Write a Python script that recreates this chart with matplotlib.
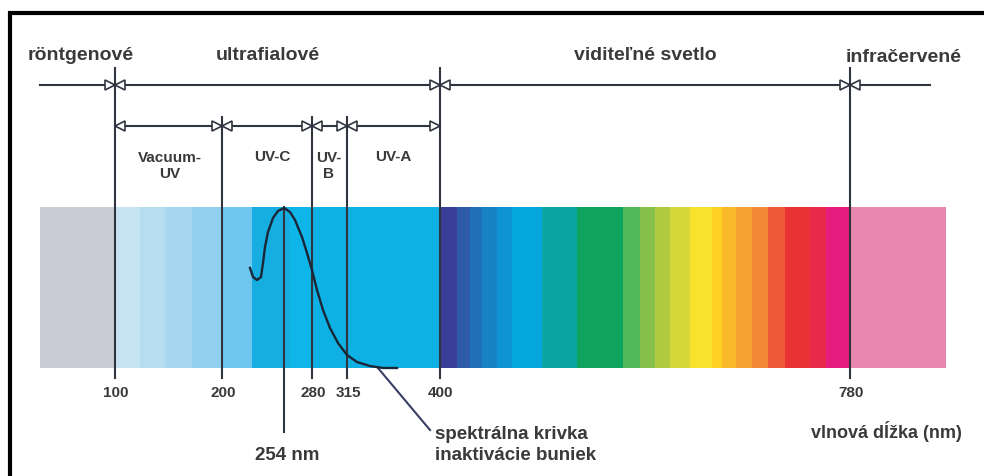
import numpy as np
import matplotlib as mpl
mpl.use('Agg')
import matplotlib.pyplot as plt

# band segments of the spectrum strip (left edge, right edge, colour)
band_left = [40, 115, 140, 165, 192, 222, 252, 290, 312, 440, 457, 470, 482, 497, 512, 542, 577, 623, 640, 655, 670, 690, 712, 722, 736, 752, 768, 785, 810, 826, 850]
band_right = band_left[1:] + [946]
band_colors = ['#c9ccd4', '#c6e4f2', '#b6def0', '#a5d8f0', '#91d1ef', '#6ec6ef', '#16ade1', '#0eb5e8', '#0fb1e4',
               '#3b3e96', '#2e5aa8', '#1f70b6', '#1782c4', '#0e94d2', '#05a6dc', '#0ca6a2', '#0fa45e', '#52b75a',
               '#85c04b', '#b0ca40', '#d6d83a', '#f8e22b', '#fdd124', '#f9b92a', '#f6a233', '#f28937', '#ee5a37',
               '#ea3337', '#e72a4c', '#e61c7e', '#e887b0']
band_top, band_bottom = 207, 368

# wavelength boundaries and where they sit on the drawing
bounds_nm = [100, 200, 280, 315, 400, 780]
bounds_x = [115, 222, 312, 347, 440, 850]
long_bounds = [100, 400, 780]   # these reach up to the top arrow line

# spectral inactivation curve
curve_x = [250, 253, 257, 261, 263, 265, 268, 273, 278, 284, 290, 295, 302, 307, 312, 317, 323, 330, 338, 347, 357, 370, 383, 397]
curve_y = [268, 277, 280, 277, 263, 247, 232, 218, 211, 208, 212, 220, 237, 253, 270, 290, 310, 328, 343, 355, 362, 366, 368, 368]

top_labels = ['röntgenové', 'ultrafialové', 'viditeľné svetlo', 'infračervené']
sub_labels = ['Vacuum-\nUV', 'UV-C', 'UV-\nB', 'UV-A']

LC = '#2f3540'
TC = '#3a3a3a'
FB = ['Liberation Sans', 'DejaVu Sans']

fig = plt.figure(figsize=(9.84, 4.76), dpi=100)
ax = fig.add_axes([0, 0, 1, 1])
ax.set_xlim(0, 984)
ax.set_ylim(476, 0)
ax.axis('off')

# frame (top and left edge visible)
ax.plot([10, 10, 990], [480, 13, 13], color='black', lw=3, solid_joinstyle='miter')

# spectrum strip
for l, r, c in zip(band_left, band_right, band_colors):
    ax.fill_between([l, r], band_top, band_bottom, color=c, lw=0)

pos = dict(zip(bounds_nm, bounds_x))

# vertical boundary lines
for nm, x in pos.items():
    y0 = 68 if nm in long_bounds else 117
    ax.plot([x, x], [y0, 378], color=LC, lw=1.5, zorder=3)
    ax.text(x + 1, 393, str(nm), ha='center', va='center', fontsize=11,
            fontweight='bold', color=TC, family=FB)

# top arrow line
ax.plot([40, 930], [85, 85], color=LC, lw=1.5, zorder=3)
mk = dict(ms=6.5, mfc='white', mec=LC, mew=1.2, ls='none', zorder=4)
for nm in long_bounds:
    ax.plot(pos[nm] - 5, 85, marker='>', **mk)
    ax.plot(pos[nm] + 5, 85, marker='<', **mk)

# second arrow line (UV sub bands)
ax.plot([pos[100], pos[400]], [126, 126], color=LC, lw=1.5, zorder=3)
ax.plot(pos[100] + 5, 126, marker='<', **mk)
ax.plot(pos[400] - 5, 126, marker='>', **mk)
for nm in [200, 280, 315]:
    ax.plot(pos[nm] - 5, 126, marker='>', **mk)
    ax.plot(pos[nm] + 5, 126, marker='<', **mk)

# band names
ax.text(28, 55, top_labels[0], ha='left', va='center', fontsize=14, fontweight='bold', color=TC, family=FB)
ax.text(268, 55, top_labels[1], ha='center', va='center', fontsize=14, fontweight='bold', color=TC, family=FB)
ax.text(645, 55, top_labels[2], ha='center', va='center', fontsize=14, fontweight='bold', color=TC, family=FB)
ax.text(962, 57, top_labels[3], ha='right', va='center', fontsize=14, fontweight='bold', color=TC, family=FB)

sub_x = [170, 272, 329, 393]
for x, s in zip(sub_x, sub_labels):
    y = 166 if '\n' in s else 157
    ax.text(x, y, s, ha='center', va='center', fontsize=11, fontweight='bold',
            color=TC, family=FB, linespacing=1.25)

# inactivation curve and 254 nm marker
ax.plot(curve_x, curve_y, color='#1a2636', lw=1.7, zorder=5)
ax.plot([284, 284], [207, 432], color=LC, lw=1.5, zorder=3)
ax.text(287, 455, '254 nm', ha='center', va='center', fontsize=13.5, fontweight='bold', color=TC, family=FB)

# leader to curve label
ax.plot([378, 430], [368, 430], color='#3a3f66', lw=1.5, zorder=3)
ax.text(435, 445, 'spektrálna krivka\ninaktivácie buniek', ha='left', va='center',
        fontsize=13.5, fontweight='bold', color=TC, family=FB, linespacing=1.3)
ax.text(962, 432, 'vlnová dĺžka (nm)', ha='right', va='center', fontsize=13,
        fontweight='bold', color=TC, family=FB)

fig.savefig('out.png', dpi=100)
